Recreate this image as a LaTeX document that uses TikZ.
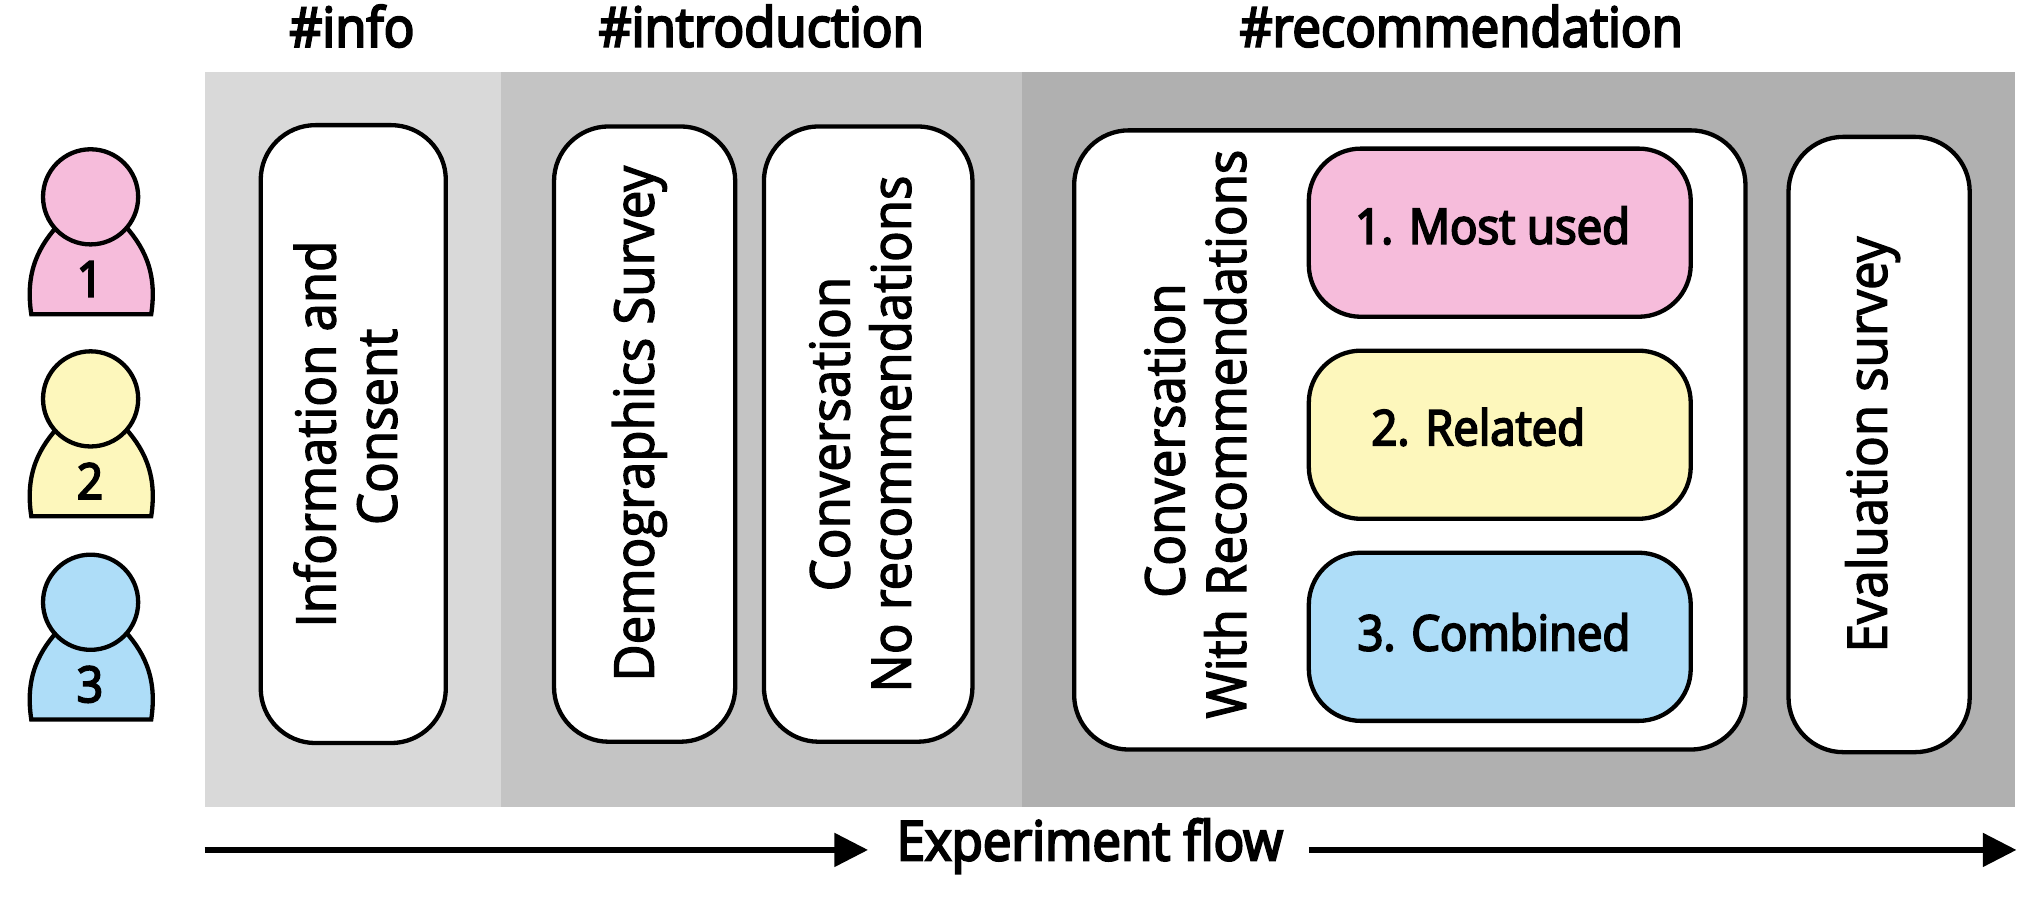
\documentclass[tikz,border=0pt]{standalone}
\usepackage{fontspec}
\setmainfont{Open Sans}[RawFeature={embolden=2.4;extend=0.93}]
\newfontfamily\semifont{Open Sans}[RawFeature={embolden=4;extend=0.93}]
\definecolor{pinkc}{HTML}{F6BCDB}
\definecolor{yelc}{HTML}{FDF7BC}
\definecolor{bluec}{HTML}{AEDDF8}
\definecolor{bga}{HTML}{D9D9D9}
\definecolor{bgb}{HTML}{C4C4C4}
\definecolor{bgc}{HTML}{B0B0B0}
\tikzset{
  lane/.style={draw=none,inner sep=0,outer sep=0,anchor=north west},
  stage/.style={draw=black,line width=3.3pt,fill=white,rounded corners=42pt,inner sep=0},
  stagetext/.style={rotate=90,align=center,inner sep=0,font=\fontsize{42}{47}\selectfont},
  variant/.style={draw=black,line width=3.3pt,rounded corners=40pt,inner sep=0,minimum width=293pt,minimum height=129pt},
  varianttext/.style={inner sep=0,font=\semifont\fontsize{37.5}{40}\selectfont},
  title/.style={font=\semifont\fontsize{42}{44}\selectfont,inner sep=0},
  flowtext/.style={font=\semifont\fontsize{42}{44}\selectfont,inner sep=0},
  flow/.style={line width=5pt,-{Triangle[length=26pt,width=25pt]}},
  head/.style={circle,draw=black,line width=3.3pt,minimum size=73pt,inner sep=0},
  bodyline/.style={draw=black,line width=3.3pt},
  num/.style={font=\semifont\fontsize{38}{40}\selectfont,inner sep=0},
}
\usetikzlibrary{arrows.meta}
\newcommand{\person}[4]{% y-offset, colour, number, name
  \begin{scope}[shift={(0,#1)}]
    \draw[bodyline,fill=#2] (24,241) .. controls (19,208) and (30,188) .. (47,170) -- (93,170) .. controls (110,188) and (121,208) .. (116,241) -- cycle;
    \node[head,fill=#2] (#4) at (69.5,151) {};
    \node[num] (#4n) at (69,214) {#3};
  \end{scope}
}
\begin{document}
\begin{tikzpicture}[x=1pt,y=-1pt]
\useasboundingbox (0,0) rectangle (1568,690.4);
% lanes
\node[lane,fill=bga,minimum width=227pt,minimum height=564pt] (l1) at (157,55) {};
\node[lane,fill=bgb,minimum width=400pt,minimum height=564pt] (l2) at (384,55) {};
\node[lane,fill=bgc,minimum width=762pt,minimum height=564pt] (l3) at (784,55) {};
% titles
\node[title] (t1) at (270,20) {\#info};
\node[title] (t2) at (584,20) {\#introduction};
\node[title] (t3) at (1121,20) {\#recommendation};
% persons
\person{0}{pinkc}{1}{p1}
\person{155}{yelc}{2}{p2}
\person{311}{bluec}{3}{p3}
% stages
\node[stage,minimum height=474pt,minimum width=142pt] (s1) at (271,333) {};
\node[stage,minimum height=472pt,minimum width=139pt] (s2) at (494.5,333) {};
\node[stage,minimum height=472pt,minimum width=160pt] (s3) at (666,333) {};
\node[stage,minimum height=475pt,minimum width=515pt] (s4) at (1081.5,337.5) {};
\node[stage,minimum height=472pt,minimum width=139pt] (s5) at (1441.5,341) {};
\node[stagetext] (s1t) at (265,333) {Information and\\\hspace*{11pt}Consent};
\node[stagetext] (s2t) at (490.5,325) {Demographics Survey};
\node[stagetext] (s3t) at (660,333) {Conversation\\No recommendations};
\node[stagetext] (s4t) at (917,333) {Conversation\hspace*{10pt}\\With Recommendations};
\node[stagetext] (s5t) at (1436.5,341) {Evaluation survey};
% variants
\node[variant,fill=pinkc] (v1) at (1150.5,178.5) {};
\node[variant,fill=yelc] (v2) at (1150.5,333.5) {};
\node[variant,fill=bluec] (v3) at (1150.5,488.5) {};
\node[varianttext] (v1t) at (1145,173) {1. Most used};
\node[varianttext] (v2t) at (1134,327.5) {2. Related};
\node[varianttext] (v3t) at (1146,485) {3. Combined};
% flow
\node[flowtext] (ft) at (836,649) {Experiment flow};
\coordinate (a0) at (157,652);
\coordinate (a1) at (666,652);
\coordinate (b0) at (1004,652);
\coordinate (b1) at (1547,652);
\draw[flow] (a0) -- (a1);
\draw[flow] (b0) -- (b1);
\end{tikzpicture}
\end{document}
